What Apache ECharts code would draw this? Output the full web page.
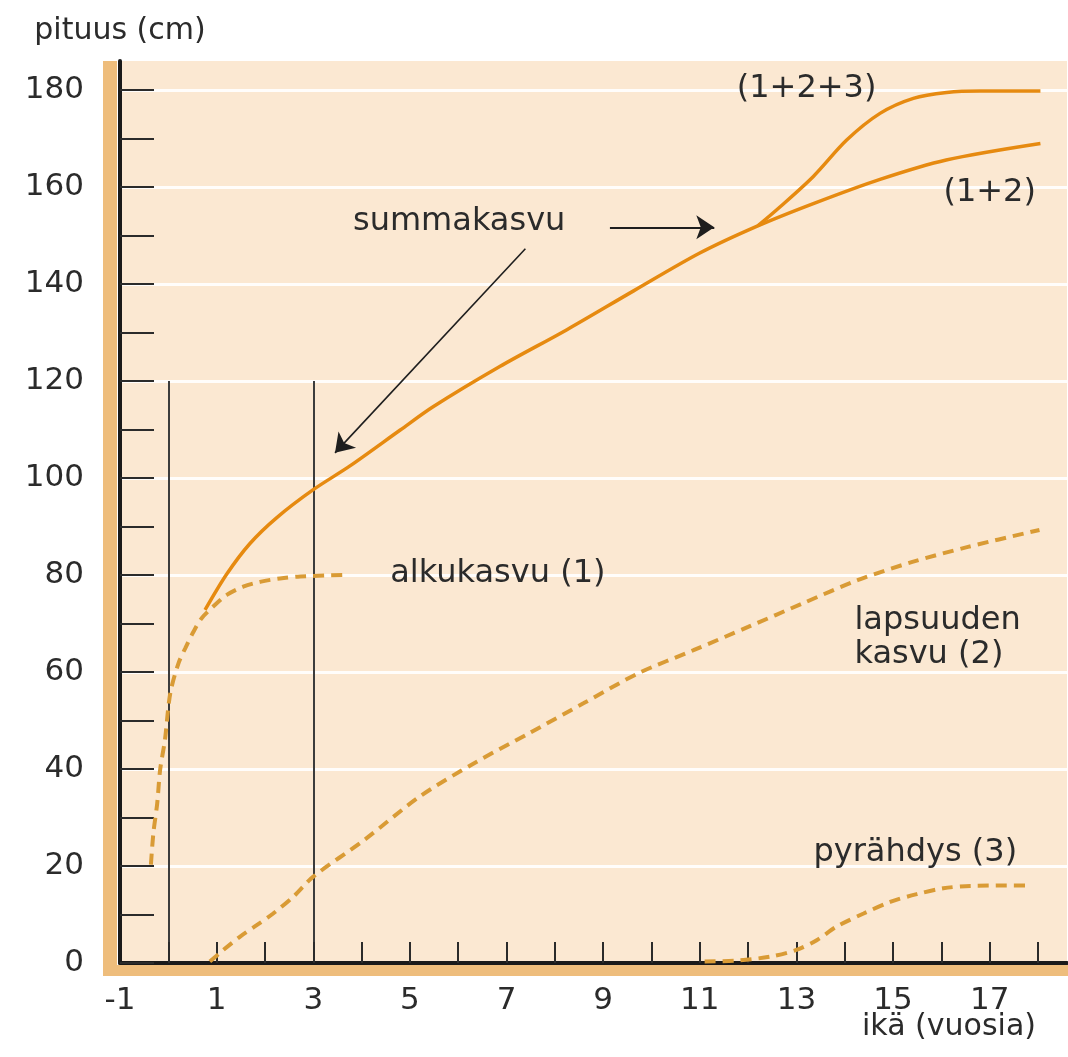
<!DOCTYPE html>
<html>
<head>
<meta charset="utf-8">
<script src="https://cdn.jsdelivr.net/npm/echarts@6/dist/echarts.min.js"></script>
<style>
html,body{margin:0;padding:0;background:#ffffff;}
#c{width:1068px;height:1057px;}
</style>
</head>
<body>
<div id="c"></div>
<script>
// ---- tick / label values ----
const xTickValues = [0,1,2,3,4,5,6,7,8,9,10,11,12,13,14,15,16,17,18];
const xLabelValues = [-1,1,3,5,7,9,11,13,15,17];
const yTickValues = [0,10,20,30,40,50,60,70,80,90,100,110,120,130,140,150,160,170,180];
const yLabelValues = [0,20,40,60,80,100,120,140,160,180];
const yGridValues = [20,40,60,80,100,120,140,160,180];

// ---- series values: [age (years), height (cm)] ----
const summa12 = [[0.76,72.8],[1.21,80.2],[1.69,86.5],[2.24,91.8],[3,97.6],[3.76,102.5],[4.8,109.9],[5.48,114.7],[6.86,123.0],[8.25,130.6],[9.63,138.6],[11.0,146.4],[12.2,152.0],[13.35,156.6],[14.73,161.6],[16.1,165.6],[18.05,169.0]];
const summa123 = [[12.2,152.0],[12.67,156.0],[13.35,162.2],[14.04,169.7],[14.73,175.2],[15.42,178.3],[16.11,179.5],[16.8,179.8],[18.05,179.8]];
const alkukasvu = [[-0.36,20.3],[-0.31,26.7],[-0.23,32.9],[-0.17,39.8],[-0.07,46.0],[0.04,55.6],[0.21,61.8],[0.35,64.9],[0.52,68.3],[0.69,71.1],[0.93,73.5],[1.21,75.9],[1.55,77.6],[1.9,78.6],[2.31,79.3],[2.73,79.7],[3.6,80.0]];
const lapsuus = [[0.86,0.3],[1.14,2.7],[1.48,5.4],[1.83,7.8],[2.17,10.2],[2.59,13.7],[3,17.8],[4.06,25.4],[5.2,34.3],[6.33,41.2],[7.47,47.4],[8.6,53.6],[9.74,59.8],[10.87,64.5],[12.0,69.3],[13.14,74.2],[14.28,79.0],[15.4,82.7],[16.55,85.8],[18.03,89.3]];
const pyrahdys = [[11.1,0.3],[11.76,0.5],[12.45,1.3],[13.0,2.7],[13.42,4.7],[13.83,7.5],[14.39,10.2],[14.94,12.6],[15.49,14.2],[16.04,15.4],[16.6,15.9],[17.84,16.0]];

// reference lines (age) and their height
const refAges = [0, 3];
const refTop = 120;

// ---- styling ----
const FONT = 'DejaVu Sans';
const TEXT = '#2b2b2b';
const solidStyle = {color:'#e68a10', width:3.5};
const dashStyle = {color:'#d99b35', width:4, type:[11,7]};

function note(text, coord, align) {
  return {
    coord: coord, symbol: 'circle', symbolSize: 1, itemStyle: {color: 'rgba(0,0,0,0)'},
    label: {show: true, position: 'inside', formatter: text, align: align || 'center',
      verticalAlign: 'middle', fontFamily: FONT, fontSize: 32, color: TEXT, lineHeight: 34}
  };
}
function arrow(from, to, w) {
  return [
    {coord: from, symbol: 'none', lineStyle: {color: '#1e1e1e', width: w, type: 'solid'}},
    {coord: to, symbol: 'arrow', symbolSize: 18}
  ];
}

const refLineData = refAges.map(a => [
  {coord: [a, 0], symbol: 'none', lineStyle: {color: '#3c3c3c', width: 2, type: 'solid'}},
  {coord: [a, refTop], symbol: 'none'}
]);

const chart = echarts.init(document.getElementById('c'), null, {renderer: 'canvas'});
const option = {
  animation: false,
  backgroundColor: '#ffffff',
  title: [{
    text: 'ikä (vuosia)', left: 862, top: 1012, padding: 0,
    textStyle: {fontFamily: FONT, fontSize: 30, fontWeight: 'normal', color: TEXT}
  }],
  graphic: [
    {type: 'rect', shape: {x: 103, y: 61, width: 14, height: 915}, style: {fill: '#eebd7c'}, silent: true},
    {type: 'rect', shape: {x: 103, y: 965, width: 965, height: 11}, style: {fill: '#eebd7c'}, silent: true}
  ],
  grid: {left: 120, right: 1, top: 61, bottom: 94, show: true, backgroundColor: '#fbe8d2', borderWidth: 0},
  xAxis: {
    type: 'value', min: -1, max: 18.6, interval: 1, z: 3,
    axisLine: {show: true, onZero: false, lineStyle: {color: '#1a1a1a', width: 4}},
    axisTick: {show: true, inside: true, length: 21, customValues: xTickValues, lineStyle: {color: '#2b2b2b', width: 2}},
    axisLabel: {customValues: xLabelValues, margin: 22, fontFamily: FONT, fontSize: 31, color: TEXT},
    splitLine: {show: false}
  },
  yAxis: {
    type: 'value', min: 0, max: 186, interval: 20, z: 3,
    name: 'pituus (cm)', nameLocation: 'end', nameGap: 15,
    nameTextStyle: {fontFamily: FONT, fontSize: 30, color: TEXT, align: 'center'},
    axisLine: {show: true, onZero: false, lineStyle: {color: '#1a1a1a', width: 4}},
    axisTick: {show: true, inside: true, length: 34, customValues: yTickValues, lineStyle: {color: '#2b2b2b', width: 2}},
    axisLabel: {customValues: yLabelValues, margin: 36, fontFamily: FONT, fontSize: 31, color: TEXT},
    splitLine: {show: false}
  },
  series: [
    {
      name: 'grid lines', type: 'line', data: [], z: 1, silent: true,
      markLine: {
        silent: true, animation: false, z: 1, label: {show: false}, symbol: ['none', 'none'],
        lineStyle: {color: 'rgba(255,255,255,0.9)', width: 3, type: 'solid'},
        data: yGridValues.map(v => ({yAxis: v}))
      }
    },
    {
      name: '(1+2)', type: 'line', data: summa12, showSymbol: false, symbol: 'none',
      smooth: 0.3, lineStyle: solidStyle, z: 4, silent: true,
      markLine: {
        silent: true, animation: false, z: 2, label: {show: false}, symbol: ['none', 'none'],
        data: refLineData.concat([
          arrow([9.14, 151.7], [11.3, 151.7], 2),
          arrow([7.39, 147.3], [3.45, 105.2], 1.6)
        ])
      },
      markPoint: {
        silent: true, animation: false, z: 6,
        data: [
          note('(1+2+3)', [13.21, 180.2]),
          note('(1+2)', [17.0, 158.8]),
          note('summakasvu', [6.02, 152.8]),
          note('alkukasvu (1)', [6.82, 80.2]),
          note('lapsuuden\nkasvu (2)', [14.2, 67.0], 'left'),
          note('pyrähdys (3)', [15.46, 22.7])
        ]
      }
    },
    {
      name: '(1+2+3)', type: 'line', data: summa123, showSymbol: false, symbol: 'none',
      smooth: 0.3, lineStyle: solidStyle, z: 4, silent: true
    },
    {
      name: 'alkukasvu (1)', type: 'line', data: alkukasvu, showSymbol: false, symbol: 'none',
      smooth: 0.3, lineStyle: dashStyle, z: 3, silent: true
    },
    {
      name: 'lapsuuden kasvu (2)', type: 'line', data: lapsuus, showSymbol: false, symbol: 'none',
      smooth: 0.3, lineStyle: dashStyle, z: 3, silent: true
    },
    {
      name: 'pyrähdys (3)', type: 'line', data: pyrahdys, showSymbol: false, symbol: 'none',
      smooth: 0.3, lineStyle: dashStyle, z: 3, silent: true
    }
  ]
};
chart.setOption(option);
</script>
</body>
</html>
